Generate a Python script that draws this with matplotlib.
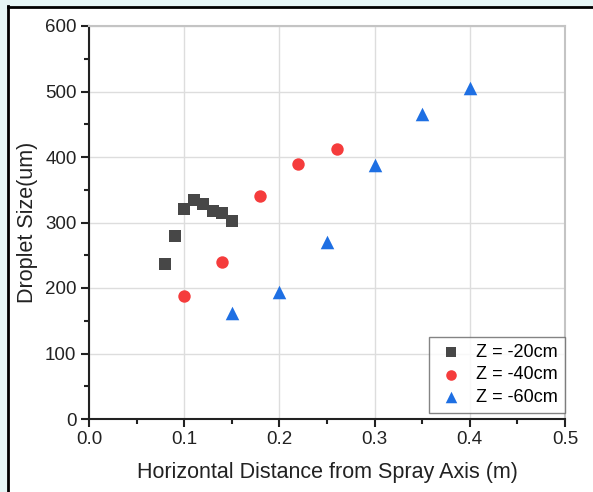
import matplotlib
matplotlib.use("Agg")
import matplotlib.pyplot as plt
from matplotlib.patches import Rectangle
from matplotlib.lines import Line2D
from matplotlib.ticker import MultipleLocator

plt.rcParams['font.family'] = ['Liberation Sans', 'DejaVu Sans']

# Data
x_20 = [0.08, 0.09, 0.10, 0.11, 0.12, 0.13, 0.14, 0.15]
y_20 = [237, 280, 320, 334, 328, 317, 314, 303]

x_40 = [0.10, 0.14, 0.18, 0.22, 0.26]
y_40 = [188, 239, 340, 390, 412]

x_60 = [0.15, 0.20, 0.25, 0.30, 0.35, 0.40]
y_60 = [162, 194, 270, 388, 466, 506]

labels = ['Z = -20cm', 'Z = -40cm', 'Z = -60cm']

W, H = 593, 492
fig = plt.figure(figsize=(W / 100, H / 100), dpi=100)
fig.patch.set_facecolor('#e6f6f6')

# white panel with black frame (screenshot look)
fig.patches.append(Rectangle((8 / W, 0), 1 - 8 / W, 1 - 7 / H, transform=fig.transFigure,
                             facecolor='white', edgecolor='none', zorder=-5))
fig.add_artist(Line2D([7.5 / W, 7.5 / W], [0, 1 - 6 / H], transform=fig.transFigure,
                      color='black', lw=2, zorder=-4))
fig.add_artist(Line2D([7.5 / W, 1], [1 - 6.5 / H, 1 - 6.5 / H], transform=fig.transFigure,
                      color='black', lw=2, zorder=-4))

ax = fig.add_axes([89 / W, 1 - 419 / H, (565 - 89) / W, (419 - 26) / H])
ax.set_zorder(2)

ax.scatter(x_20, y_20, marker='s', s=65, color='#474747', label=labels[0], zorder=3, linewidths=0)
ax.scatter(x_40, y_40, marker='o', s=80, color='#f53c3c', label=labels[1], zorder=3, linewidths=0)
ax.scatter(x_60, y_60, marker='^', s=95, color='#1e6fe3', label=labels[2], zorder=3, linewidths=0)

ax.set_xlim(0, 0.5)
ax.set_ylim(0, 600)
ax.xaxis.set_major_locator(MultipleLocator(0.1))
ax.xaxis.set_minor_locator(MultipleLocator(0.05))
ax.yaxis.set_major_locator(MultipleLocator(100))
ax.yaxis.set_minor_locator(MultipleLocator(50))
ax.xaxis.set_major_formatter(plt.FuncFormatter(lambda v, p: f"{v:.1f}"))

ax.grid(True, which='major', color='#dddddd', lw=1)
ax.set_axisbelow(True)

for s in ['top', 'right']:
    ax.spines[s].set_color('#c4c4c4')
    ax.spines[s].set_linewidth(1.5)
for s in ['left', 'bottom']:
    ax.spines[s].set_color('#222222')
    ax.spines[s].set_linewidth(1.5)

ax.tick_params(which='major', direction='out', length=6, width=1.5, color='#222222',
               labelsize=13.5, labelcolor='#222222', pad=3)
ax.tick_params(which='minor', direction='out', length=3.5, width=1.5, color='#222222')

ax.set_xlabel('Horizontal Distance from Spray Axis (m)', fontsize=15.5, color='#222222', labelpad=10)
ax.set_ylabel('Droplet Size(um)', fontsize=15.5, color='#222222', labelpad=5)

leg = ax.legend(loc='lower right', bbox_to_anchor=(1.0, 6 / 393), fontsize=13, frameon=True,
                fancybox=False, borderpad=0.4, handlelength=1.6, handletextpad=0.6,
                labelspacing=0.3, borderaxespad=0, markerscale=0.85)
leg.get_frame().set_edgecolor('#666666')
leg.get_frame().set_linewidth(1)

fig.savefig('out.png', dpi=100, facecolor=fig.get_facecolor())
